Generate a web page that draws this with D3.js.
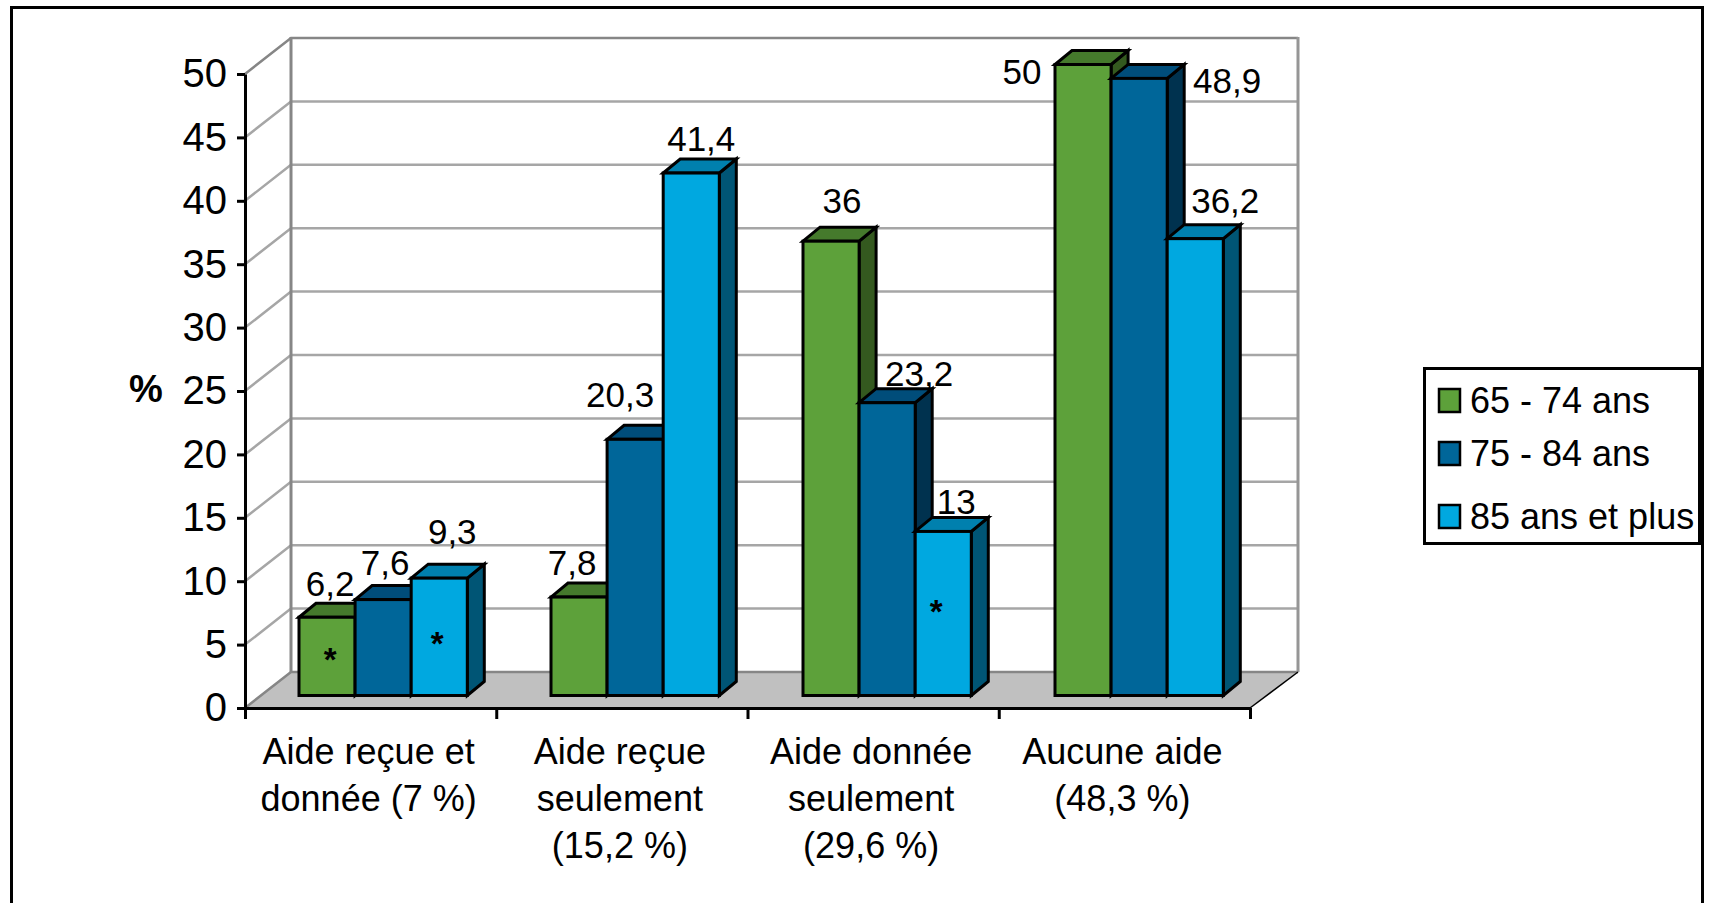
<!DOCTYPE html>
<html><head><meta charset="utf-8">
<script src="https://cdn.jsdelivr.net/npm/d3@7"></script>
<style>html,body{margin:0;padding:0;background:#fff}svg{display:block}text{font-family:"Liberation Sans",Arial,sans-serif;fill:#000}</style>
</head><body><svg id="c" width="1712" height="903"></svg>
<script>
const categories=[["Aide reçue et","donnée (7 %)"],["Aide reçue","seulement","(15,2 %)"],["Aide donnée","seulement","(29,6 %)"],["Aucune aide","(48,3 %)"]];
const seriesNames=["65 - 74 ans","75 - 84 ans","85 ans et plus"];
const s65=[6.2,7.8,36,50];
const s75=[7.6,20.3,23.2,48.9];
const s85=[9.3,41.4,13,36.2];
const valueLabels=[["6,2","7,8","36","50"],["7,6","20,3","23,2","48,9"],["9,3","41,4","13","36,2"]];
const yTicks=[0,5,10,15,20,25,30,35,40,45,50];
const stars=[[0,0,3.1,3],[2,0,4.4,-2],[2,2,6.7,-7]];
const starLift=[1,1,4];
const labelOffsets=[[[3,-21],[-7,-22],[11,-28],[-61,19]],[[2,-25],[-15,-32],[32,-17],[88,15]],[[13,-34],[10,-22],[13,-17],[30,-26]]];

const svg=d3.select("#c");
const colors=[{f:"#5DA13A",t:"#457A2C",s:"#34591F"},{f:"#006699",t:"#004D7A",s:"#00324F"},{f:"#00A8E0",t:"#0080AE",s:"#005575"}];
const X0=245,X1=1250,Y0=708,Y50=74,DX=46,DY=36,BDX=17,BDY=14;
const x=d3.scaleBand().domain(d3.range(4)).range([X0,X1]);
const y=d3.scaleLinear().domain([0,50]).range([Y0,Y50]);
const barY=d3.scaleLinear().domain([0,50]).range([695.5,64.5]);
const barX=d3.scaleBand().domain(d3.range(4)).range([299,1307]);
const inner=d3.scaleBand().domain(d3.range(3)).range([0,168.3]);
const bw=inner.bandwidth();
const pts=a=>a.map(p=>p.join(",")).join(" ");

svg.append("rect").attr("x",11.5).attr("y",7.5).attr("width",1691).attr("height",905).attr("fill","#fff").attr("stroke","#000").attr("stroke-width",3);

// floor
svg.append("polygon").attr("points",pts([[X0,Y0],[X0+DX,Y0-DY],[X1+DX+2,Y0-DY],[X1,Y0]])).attr("fill","#C0C0C0");
// gridlines
yTicks.forEach(t=>{
  const yy=y(t),c=(t===0||t===50)?"#868686":"#A6A6A6";
  svg.append("polyline").attr("fill","none").attr("stroke",c).attr("stroke-width",2.5)
    .attr("points",pts([[X0,yy],[X0+DX,yy-DY],[X1+DX+2,yy-DY]]));
});
svg.append("line").attr("x1",X0+DX).attr("x2",X0+DX).attr("y1",Y50-DY-1).attr("y2",Y0-DY).attr("stroke","#868686").attr("stroke-width",3);
svg.append("line").attr("x1",X1+DX+2).attr("x2",X1+DX+2).attr("y1",Y50-DY-1).attr("y2",Y0-DY).attr("stroke","#969696").attr("stroke-width",3);
svg.append("line").attr("x1",X1).attr("x2",X1+DX+2).attr("y1",Y0).attr("y2",Y0-DY).attr("stroke","#000").attr("stroke-width",1.5);

// axes
const yAxis=d3.axisLeft(y).tickValues(yTicks).tickSize(8).tickSizeOuter(0).tickPadding(10);
const gy=svg.append("g").attr("transform",`translate(${X0},0)`).call(yAxis);
gy.selectAll("path,line").attr("stroke","#000").attr("stroke-width",3);
gy.selectAll("text").attr("font-size",40).attr("font-family","Liberation Sans");
const xAxisScale=d3.scaleLinear().domain([0,4]).range([X0,X1]);
const gx=svg.append("g").attr("transform",`translate(0,${Y0})`).call(d3.axisBottom(xAxisScale).tickValues([0,1,2,3,4]).tickSize(11).tickSizeOuter(0).tickFormat(""));
gx.selectAll("path,line").attr("stroke","#000").attr("stroke-width",3);

// bars
const allSeries=[s65,s75,s85];
d3.range(4).forEach(ci=>{
  d3.range(3).forEach(si=>{
    const v=allSeries[si][ci],l=barX(ci)+inner(si),r=l+bw,t=barY(v),b=barY(0),c=colors[si];
    const g=svg.append("g").attr("stroke","#000").attr("stroke-width",3).attr("stroke-linejoin","miter");
    g.append("polygon").attr("points",pts([[r,t],[r+BDX,t-BDY],[r+BDX,b-BDY],[r,b]])).attr("fill",c.s);
    g.append("polygon").attr("points",pts([[l,t],[l+BDX,t-BDY],[r+BDX,t-BDY],[r,t]])).attr("fill",c.t);
    g.append("rect").attr("x",l).attr("y",t).attr("width",bw).attr("height",b-t).attr("fill",c.f);
  });
});
// value labels
d3.range(3).forEach(si=>d3.range(4).forEach(ci=>{
  const v=allSeries[si][ci];
  svg.append("text").attr("x",barX(ci)+inner(si)+bw/2+labelOffsets[si][ci][0]).attr("y",barY(v)+labelOffsets[si][ci][1])
    .attr("text-anchor","middle").attr("font-size",35).text(valueLabels[si][ci]);
}));
// stars
stars.forEach(([si,ci,v,dx],i)=>{
  svg.append("text").attr("x",barX(ci)+inner(si)+bw/2+dx).attr("y",barY(v)+16-starLift[i]).attr("text-anchor","middle").attr("font-size",33).attr("font-weight",700).text("*");
});
// category labels
categories.forEach((lines,i)=>{
  const t=svg.append("text").attr("text-anchor","middle").attr("font-size",36);
  lines.forEach((ln,j)=>t.append("tspan").attr("x",x(i)+x.bandwidth()/2-2).attr("y",764+j*47).text(ln));
});
svg.append("text").attr("x",146).attr("y",402).attr("text-anchor","middle").attr("font-size",38).attr("font-weight",700).text("%");

// legend
const L=svg.append("g");
L.append("rect").attr("x",1424.5).attr("y",368.5).attr("width",275).attr("height",175).attr("fill","#fff").attr("stroke","#000").attr("stroke-width",3);
const rowY=[400,453,516];
seriesNames.forEach((n,i)=>{
  const yy=rowY[i];
  L.append("rect").attr("x",1439).attr("y",yy-11).attr("width",21).attr("height",23).attr("fill",colors[i].f).attr("stroke","#000").attr("stroke-width",2.5);
  L.append("text").attr("x",1470).attr("y",yy+13).attr("font-size",36).text(n);
});
</script></body></html>
